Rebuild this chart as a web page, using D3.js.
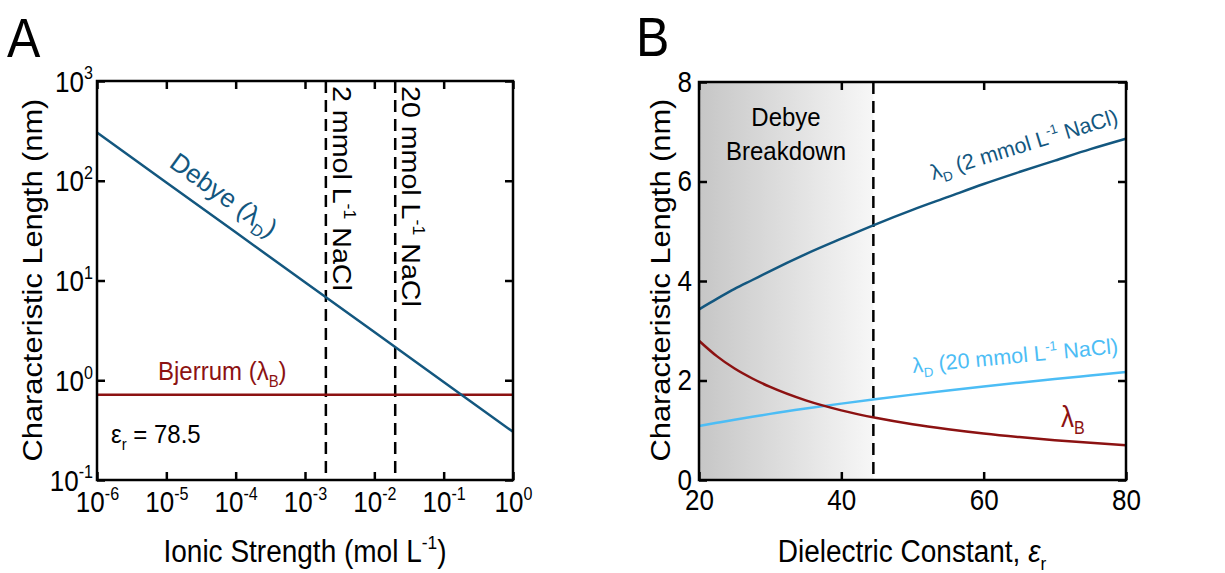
<!DOCTYPE html>
<html>
<head>
    <script src="https://d3js.org/d3.v7.min.js"></script>
    <style>
        body { margin: 0; background: #fff; }
        svg { display: block; font-family: 'Liberation Sans', Arial, sans-serif; }
        .frame { fill: none; stroke: #000; stroke-width: 2.5px; }
        .tick line { stroke: #000; stroke-width: 2.5px; }
        .tick text { fill: #000; }
        .curve { fill: none; stroke-width: 2.5px; }
        .guide { stroke: #000; stroke-width: 2.5px; stroke-dasharray: 12 7; }
    </style>
</head>
<body>
<div id="chart"></div>
<script>
    const width = 1225, height = 573;

    // panel A: ionic strength (mol/L) vs characteristic length (nm)
    const ionicStrength = [1e-6, 1e-5, 1e-4, 1e-3, 1e-2, 1e-1, 1];
    const debyeA = [304, 96, 30.4, 9.6, 3.04, 0.96, 0.304];
    const bjerrumA = [0.714, 0.714, 0.714, 0.714, 0.714, 0.714, 0.714];
    const saltLines = [2e-3, 2e-2];
    const ticksA_x = [-6, -5, -4, -3, -2, -1, 0];
    const ticksA_y = [-1, 0, 1, 2, 3];

    // panel B: dielectric constant vs characteristic length (nm)
    const epsilon = [20, 22.5, 25, 27.5, 30, 35, 40, 45, 50, 55, 60, 65, 70, 75, 80];
    const debye2mM = [3.43, 3.64, 3.84, 4.02, 4.20, 4.54, 4.85, 5.15, 5.43, 5.69, 5.95, 6.19, 6.42, 6.65, 6.86];
    const debye20mM = [1.085, 1.15, 1.213, 1.27, 1.329, 1.436, 1.535, 1.628, 1.716, 1.80, 1.88, 1.957, 2.03, 2.10, 2.17];
    const bjerrumB = [2.80, 2.49, 2.24, 2.04, 1.87, 1.60, 1.40, 1.245, 1.12, 1.02, 0.934, 0.862, 0.80, 0.747, 0.70];
    const breakdownEps = 44.5;
    const ticksB_x = [20, 40, 60, 80];
    const ticksB_y = [0, 2, 4, 6, 8];

    const colDebye = "#13577f", colBjerrum = "#8c1212", colLight = "#4cbdf5";
    const SY = 1.1; // glyphs in the figure are a bit taller than Arial

    const svg = d3.select('#chart').append('svg')
        .attr("width", width).attr("height", height);

    const defs = svg.append("defs");
    const grad = defs.append("linearGradient").attr("id", "shade");
    grad.append("stop").attr("offset", "0%").attr("stop-color", "#c6c6c6");
    grad.append("stop").attr("offset", "100%").attr("stop-color", "#f7f7f7");

    // text with sub/superscript pieces: [str, kind, italic]
    function richText(g, parts, size) {
        const t = g.append("text").attr("font-size", size);
        parts.forEach(([s, kind, it]) => {
            const sp = t.append("tspan").text(s);
            if (it) sp.attr("font-style", "italic");
            if (kind === "sup") sp.attr("font-size", size * 0.62).attr("dy", -size * 0.42);
            if (kind === "sub") sp.attr("font-size", size * 0.62).attr("dy", size * 0.25);
            if (kind === "back-sup") sp.attr("dy", size * 0.42);
            if (kind === "back-sub") sp.attr("dy", -size * 0.25);
        });
        return t;
    }

    function place(t, x, y, rot = 0) {
        let s = "";
        if (rot === 0) s = ` scale(1,${SY})`;
        else if (Math.abs(rot) === 90) s = ` scale(${SY},1)`;
        return t.attr("transform", `translate(${x},${y}) rotate(${rot})${s}`);
    }

    function decade(sel, e, size) {
        sel.text(null);
        sel.append("tspan").text("10");
        sel.append("tspan").text(e).attr("font-size", size * 0.62).attr("dy", -size * 0.42);
    }

    function fixLabels(axisG, dx, dy, size) {
        axisG.selectAll(".tick text")
            .attr("font-size", size).attr("x", 0).attr("y", 0).attr("dy", null)
            .attr("transform", `translate(${dx},${dy}) scale(1,${SY})`);
    }

    function frame(x, y) {
        svg.append("rect").attr("class", "frame")
            .attr("x", x.range()[0]).attr("y", y.range()[1])
            .attr("width", x.range()[1] - x.range()[0])
            .attr("height", y.range()[0] - y.range()[1]);
    }

    const tickFont = 26;

    // ---------- panel A ----------
    const xA = d3.scaleLog().domain([1e-6, 1]).range([97, 513]);
    const yA = d3.scaleLog().domain([0.1, 1000]).range([480, 81]);

    const axA_b = svg.append("g").attr("transform", `translate(0,${yA.range()[0]})`)
        .call(d3.axisBottom(xA).tickValues(ticksA_x.map(e => 10 ** e)).tickSize(-8));
    fixLabels(axA_b, 0, 32, tickFont);
    axA_b.selectAll(".tick text").each(function (d, i) { decade(d3.select(this), ticksA_x[i], tickFont); });
    svg.append("g").attr("transform", `translate(0,${yA.range()[1]})`)
        .call(d3.axisTop(xA).tickValues(ticksA_x.map(e => 10 ** e)).tickSize(-8).tickFormat(""));

    const axA_l = svg.append("g").attr("transform", `translate(${xA.range()[0]},0)`)
        .call(d3.axisLeft(yA).tickValues(ticksA_y.map(e => 10 ** e)).tickSize(-8));
    fixLabels(axA_l, -4, 10, tickFont);
    axA_l.selectAll(".tick text").each(function (d, i) { decade(d3.select(this), ticksA_y[i], tickFont); });
    svg.append("g").attr("transform", `translate(${xA.range()[1]},0)`)
        .call(d3.axisRight(yA).tickValues(ticksA_y.map(e => 10 ** e)).tickSize(-8).tickFormat(""));
    svg.selectAll(".domain").remove();

    saltLines.forEach(c => {
        svg.append("line").attr("class", "guide")
            .attr("x1", xA(c)).attr("x2", xA(c))
            .attr("y1", yA.range()[1]).attr("y2", yA.range()[0]);
    });

    const lineA = d3.line().x((d, i) => xA(ionicStrength[i])).y(d => yA(d));
    svg.append("path").attr("class", "curve").attr("stroke", colBjerrum).attr("d", lineA(bjerrumA));
    svg.append("path").attr("class", "curve").attr("stroke", colDebye).attr("d", lineA(debyeA));
    frame(xA, yA);

    const annA = svg.append("g");
    place(richText(annA, [["Debye ("], ["λ"], ["D", "sub"], [")", "back-sub"]], 26)
        .attr("fill", colDebye), 168, 166, 35.5);
    place(richText(annA, [["Bjerrum ("], ["λ"], ["B", "sub"], [")", "back-sub"]], 24)
        .attr("fill", colBjerrum), 158, 380);
    place(richText(annA, [["ε"], ["r", "sub"], [" = 78.5", "back-sub"]], 24), 111, 443);
    place(richText(annA, [["2 mmol L"], ["-1", "sup"], [" NaCl", "back-sup"]], 26),
        xA(saltLines[0]) + 7, 86, 90);
    place(richText(annA, [["20 mmol L"], ["-1", "sup"], [" NaCl", "back-sup"]], 26),
        xA(saltLines[1]) + 7, 86, 90);

    place(richText(svg, [["Ionic Strength (mol L"], ["-1", "sup"], [")", "back-sup"]], 28)
        .attr("text-anchor", "middle"), 305, 562);
    place(richText(svg, [["Characteristic Length (nm)"]], 28)
        .attr("text-anchor", "middle"), 42, 280, -90);
    place(svg.append("text").attr("font-size", 50).text("A"), 7, 57);

    // ---------- panel B ----------
    const xB = d3.scaleLinear().domain([20, 80]).range([699, 1126]);
    const yB = d3.scaleLinear().domain([0, 8]).range([480, 82]);

    svg.append("rect")
        .attr("x", xB(20)).attr("y", yB(8))
        .attr("width", xB(breakdownEps) - xB(20)).attr("height", yB(0) - yB(8))
        .attr("fill", "url(#shade)");

    const axB_b = svg.append("g").attr("transform", `translate(0,${yB.range()[0]})`)
        .call(d3.axisBottom(xB).tickValues(ticksB_x).tickSize(-8));
    fixLabels(axB_b, 0, 30, tickFont);
    svg.append("g").attr("transform", `translate(0,${yB.range()[1]})`)
        .call(d3.axisTop(xB).tickValues(ticksB_x).tickSize(-8).tickFormat(""));
    const axB_l = svg.append("g").attr("transform", `translate(${xB.range()[0]},0)`)
        .call(d3.axisLeft(yB).tickValues(ticksB_y).tickSize(-8));
    fixLabels(axB_l, -7, 9, tickFont);
    svg.append("g").attr("transform", `translate(${xB.range()[1]},0)`)
        .call(d3.axisRight(yB).tickValues(ticksB_y).tickSize(-8).tickFormat(""));
    svg.selectAll(".domain").remove();

    svg.append("line").attr("class", "guide")
        .attr("x1", xB(breakdownEps)).attr("x2", xB(breakdownEps))
        .attr("y1", yB(8)).attr("y2", yB(0));

    const lineB = d3.line().x((d, i) => xB(epsilon[i])).y(d => yB(d)).curve(d3.curveMonotoneX);
    svg.append("path").attr("class", "curve").attr("stroke", colLight).attr("d", lineB(debye20mM));
    svg.append("path").attr("class", "curve").attr("stroke", colBjerrum).attr("d", lineB(bjerrumB));
    svg.append("path").attr("class", "curve").attr("stroke", colDebye).attr("d", lineB(debye2mM));
    frame(xB, yB);

    const annB = svg.append("g");
    place(annB.append("text").attr("font-size", 24).attr("text-anchor", "middle").text("Debye"), 786, 126);
    place(annB.append("text").attr("font-size", 24).attr("text-anchor", "middle").text("Breakdown"), 786, 160);
    place(richText(annB, [["λ"], ["D", "sub"], [" (2 mmol L", "back-sub"], ["-1", "sup"], [" NaCl)", "back-sup"]], 21.5)
        .attr("fill", colDebye), 933, 180, -17);
    place(richText(annB, [["λ"], ["D", "sub"], [" (20 mmol L", "back-sub"], ["-1", "sup"], [" NaCl)", "back-sup"]], 21.5)
        .attr("fill", colLight), 913, 373, -5.5);
    place(richText(annB, [["λ"], ["B", "sub"]], 26)
        .attr("fill", colBjerrum), 1061, 427);

    place(richText(svg, [["Dielectric Constant, "], ["ε", null, true], ["r", "sub"]], 28)
        .attr("text-anchor", "middle"), 912, 562);
    place(richText(svg, [["Characteristic Length (nm)"]], 28)
        .attr("text-anchor", "middle"), 670, 280, -90);
    place(svg.append("text").attr("font-size", 50).text("B"), 636, 56);
</script>
</body>
</html>
